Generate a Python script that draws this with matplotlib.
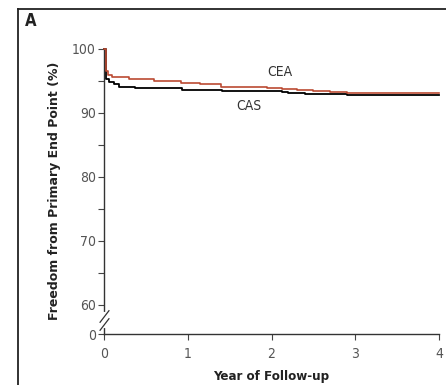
import matplotlib.pyplot as plt
from matplotlib.lines import Line2D

# Kaplan-Meier style step data
cea_years = [0, 0.02, 0.05, 0.1, 0.3, 0.6, 0.92, 1.15, 1.4, 1.95, 2.13, 2.3, 2.5, 2.7, 2.9, 4.0]
cea_vals = [100, 96.5, 95.8, 95.5, 95.3, 95.0, 94.6, 94.4, 94.0, 93.9, 93.6, 93.45, 93.3, 93.2, 93.0, 93.0]

cas_years = [0, 0.02, 0.06, 0.12, 0.18, 0.37, 0.93, 1.41, 2.13, 2.2, 2.4, 2.6, 2.9, 4.0]
cas_vals = [100, 95.2, 94.8, 94.4, 94.0, 93.8, 93.5, 93.3, 93.15, 93.05, 92.95, 92.9, 92.8, 92.8]

x_ticks = [0, 1, 2, 3, 4]
y_ticks = [60, 70, 80, 90, 100]
y_minor = [65, 75, 85, 95]
y_zero = 55.4  # where the "0" sits below the axis break

narrow = ['DejaVu Sans Condensed', 'DejaVu Sans']
grey = '#555555'

fig = plt.figure(figsize=(4.46, 3.85), dpi=100)
ax = fig.add_axes([104 / 446, 1 - 334 / 385, 335 / 446, 285.5 / 385])

ax.step(cea_years, cea_vals, where='post', color='#bb4a32', lw=1.2, clip_on=False, zorder=3)
ax.step(cas_years, cas_vals, where='post', color='black', lw=1.3, clip_on=False, zorder=2)

ax.set_xlim(0, 4)
ax.set_ylim(y_zero, 100)

for s in ['top', 'right']:
    ax.spines[s].set_visible(False)
for s in ['left', 'bottom']:
    ax.spines[s].set_color('#333333')
    ax.spines[s].set_linewidth(1.0)

ax.set_xticks(x_ticks)
ax.set_xticklabels([str(t) for t in x_ticks], family=narrow, stretch='condensed', fontsize=10, color=grey)
ax.set_yticks([y_zero] + y_ticks)
ax.set_yticklabels(['0'] + [str(t) for t in y_ticks], family=narrow, stretch='condensed', fontsize=10, color=grey)
ax.set_yticks(y_minor, minor=True)
ax.tick_params(axis='both', which='both', direction='out', length=4, width=0.8, color='#444444')
ax.tick_params(axis='x', pad=5)
ax.tick_params(axis='y', pad=2)

# axis break on the y axis
ax.plot([0, 0], [56.6, 58.6], color='white', lw=3, clip_on=False, zorder=5)
ax.plot([0], [56.9], marker=[(-1, -1.3), (1, 1.3)], markersize=9, markeredgewidth=0.9,
        color='#333333', clip_on=False, zorder=6)
ax.plot([0], [58.2], marker=[(-1, -1.3), (1, 1.3)], markersize=9, markeredgewidth=0.9,
        color='#333333', clip_on=False, zorder=6)

ax.text(2.1, 96.3, 'CEA', family=narrow, stretch='condensed', fontsize=10, color='#333333', ha='center', va='center')
ax.text(1.73, 91.0, 'CAS', family=narrow, stretch='condensed', fontsize=10, color='#333333', ha='center', va='center')

ax.set_xlabel('Year of Follow-up', family=narrow, stretch='condensed', fontsize=9.5,
              fontweight='bold', color='#222222', labelpad=7)
ax.set_ylabel('Freedom from Primary End Point (%)', fontsize=9, fontweight='bold',
              color='#222222', labelpad=8)

# panel frame and letter
fig.add_artist(Line2D([18 / 446, 18 / 446], [0, 1 - 9 / 385], color='#222222', lw=1.3))
fig.add_artist(Line2D([18 / 446, 1], [1 - 9 / 385, 1 - 9 / 385], color='#222222', lw=1.3))
fig.text(25 / 446, 1 - 21 / 385, 'A', family=narrow, stretch='condensed', fontsize=12,
         fontweight='bold', color='#222222', va='center')

fig.savefig('out.png', dpi=100)
